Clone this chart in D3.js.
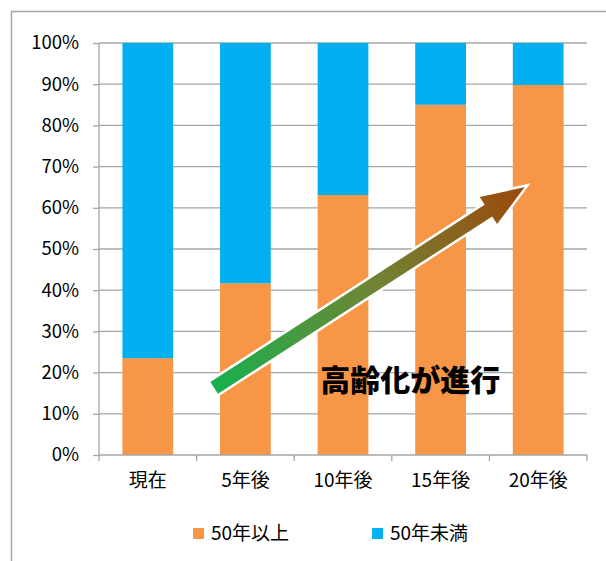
<!DOCTYPE html>
<html>
<head>
<meta charset="utf-8">
<script src="https://cdn.jsdelivr.net/npm/d3@7"></script>
<style>
body { margin: 0; background: #fff; }
svg text { font-family: "Noto Sans CJK JP", "Noto Sans", sans-serif; fill: #000; }
</style>
</head>
<body>
<svg></svg>
<script>
// data
var categories = ["現在", "5年後", "10年後", "15年後", "20年後"]
var over50 = [23.5, 41.7, 63.1, 85, 89.8]
var under50 = over50.map(function(v){ return 100 - v })
var seriesNames = ["50年以上", "50年未満"]
var seriesColors = ["#f79646", "#00b0f0"]
var yTicks = [0,10,20,30,40,50,60,70,80,90,100]

// arrow annotation in (category index, percent) units
var arrowFrom = [1.18, 16.3]
var arrowTo = [4.36, 65]
var noteText = "高齢化が進行"
var notePos = [3.19, 15.6]

var screen = {width: 606, height: 561}
var margins = {top: 43, right: 19, bottom: 106, left: 99}
var width = screen.width - margins.left - margins.right
var height = screen.height - margins.top - margins.bottom

var svg = d3.select("svg")
    .attr("width", screen.width)
    .attr("height", screen.height)

// outer frame
svg.append("rect")
    .attr("x", 11.5).attr("y", 11.5)
    .attr("width", screen.width)
    .attr("height", screen.height)
    .attr("fill", "none")
    .attr("stroke", "#a6a6a6")
    .attr("stroke-width", 1.5)

var graph = svg.append("g")
    .attr("id", "graph")
    .attr("transform", "translate(" + margins.left + "," + margins.top + ")")

var xScale = d3.scaleBand()
    .domain(categories)
    .range([0, width])
    .paddingInner(0.48)
    .paddingOuter(0.24)
var yScale = d3.scaleLinear()
    .domain([0, 100])
    .range([height, 0])
// index scale for the annotation
var iScale = d3.scaleLinear()
    .domain([0, categories.length])
    .range([0, width])

// gridlines
graph.append("g")
    .selectAll("line")
    .data(yTicks.slice(1))
    .enter()
    .append("line")
    .attr("x1", 0).attr("x2", width)
    .attr("y1", function(d){ return yScale(d) })
    .attr("y2", function(d){ return yScale(d) })
    .attr("stroke", "#a6a6a6")
    .attr("stroke-width", 1.3)

// stacked bars
var stack = categories.map(function(c, i){
    return {cat: c, parts: [[0, over50[i]], [over50[i], over50[i] + under50[i]]]}
})
graph.selectAll("g.bar")
    .data(stack)
    .enter()
    .append("g")
    .attr("class", "bar")
    .selectAll("rect")
    .data(function(d){ return d.parts.map(function(p, k){ return {cat: d.cat, p: p, k: k} }) })
    .enter()
    .append("rect")
    .attr("x", function(d){ return xScale(d.cat) })
    .attr("width", xScale.bandwidth())
    .attr("y", function(d){ return yScale(d.p[1]) })
    .attr("height", function(d){ return yScale(d.p[0]) - yScale(d.p[1]) })
    .attr("fill", function(d){ return seriesColors[d.k] })

// axes
var yAxis = d3.axisLeft(yScale)
    .tickValues(yTicks)
    .tickSize(6)
    .tickPadding(14)
    .tickFormat(function(d){ return d + "%" })
var yg = graph.append("g").attr("id", "yAxis").call(yAxis)
yg.selectAll("text").style("font-size", "18.5px")

var xg = graph.append("g")
    .attr("id", "xAxis")
    .attr("transform", "translate(0," + height + ")")
    .call(d3.axisBottom(xScale).tickSize(0).tickPadding(19))
xg.selectAll("text").style("font-size", "19px")
// ticks between categories
xg.selectAll("line.sep")
    .data(d3.range(categories.length + 1))
    .enter()
    .append("line")
    .attr("class", "sep")
    .attr("x1", function(d){ return iScale(d) })
    .attr("x2", function(d){ return iScale(d) })
    .attr("y1", 0).attr("y2", 6)
    .attr("stroke", "#a6a6a6")
    .attr("stroke-width", 1.3)

svg.selectAll(".domain, .tick line")
    .attr("stroke", "#a6a6a6")
    .attr("stroke-width", 1.3)
xg.select(".domain").attr("d", "M0,0H" + width)
yg.select(".domain").attr("d", "M0,0V" + height)

// arrow
var p0 = [iScale(arrowFrom[0]), yScale(arrowFrom[1])]
var p1 = [iScale(arrowTo[0]), yScale(arrowTo[1])]
var L = Math.hypot(p1[0] - p0[0], p1[1] - p0[1])
var ang = Math.atan2(p1[1] - p0[1], p1[0] - p0[0]) * 180 / Math.PI
var sw = 7, hw = 16, hl = 43

var grad = svg.append("defs").append("linearGradient")
    .attr("id", "arrowGrad")
    .attr("gradientUnits", "userSpaceOnUse")
    .attr("x1", 0).attr("y1", 0).attr("x2", L).attr("y2", 0)
grad.append("stop").attr("offset", "0%").attr("stop-color", "#17b04c")
grad.append("stop").attr("offset", "50%").attr("stop-color", "#6f8636")
grad.append("stop").attr("offset", "100%").attr("stop-color", "#9c480c")

graph.append("path")
    .attr("transform", "translate(" + p0[0] + "," + p0[1] + ") rotate(" + ang + ")")
    .attr("d", d3.line()([[0,-sw],[L-hl,-sw],[L-hl,-hw],[L,0],[L-hl,hw],[L-hl,sw],[0,sw]]) + "Z")
    .attr("fill", "url(#arrowGrad)")
    .attr("stroke", "#fff")
    .attr("stroke-width", 5)
    .attr("stroke-linejoin", "miter")
    .attr("paint-order", "stroke")

graph.append("text")
    .attr("x", iScale(notePos[0]))
    .attr("y", yScale(notePos[1]))
    .attr("text-anchor", "middle")
    .style("font-size", "30px")
    .style("font-weight", "900")
    .text(noteText)

// legend
var legend = svg.append("g")
    .selectAll("g")
    .data(seriesNames)
    .enter()
    .append("g")
    .attr("transform", function(d, i){ return "translate(" + (193 + i * 179) + ",528)" })
legend.append("rect")
    .attr("width", 11).attr("height", 11)
    .attr("fill", function(d, i){ return seriesColors[i] })
legend.append("text")
    .attr("x", 18).attr("y", 12)
    .style("font-size", "19px")
    .text(function(d){ return d })
</script>
</body>
</html>
